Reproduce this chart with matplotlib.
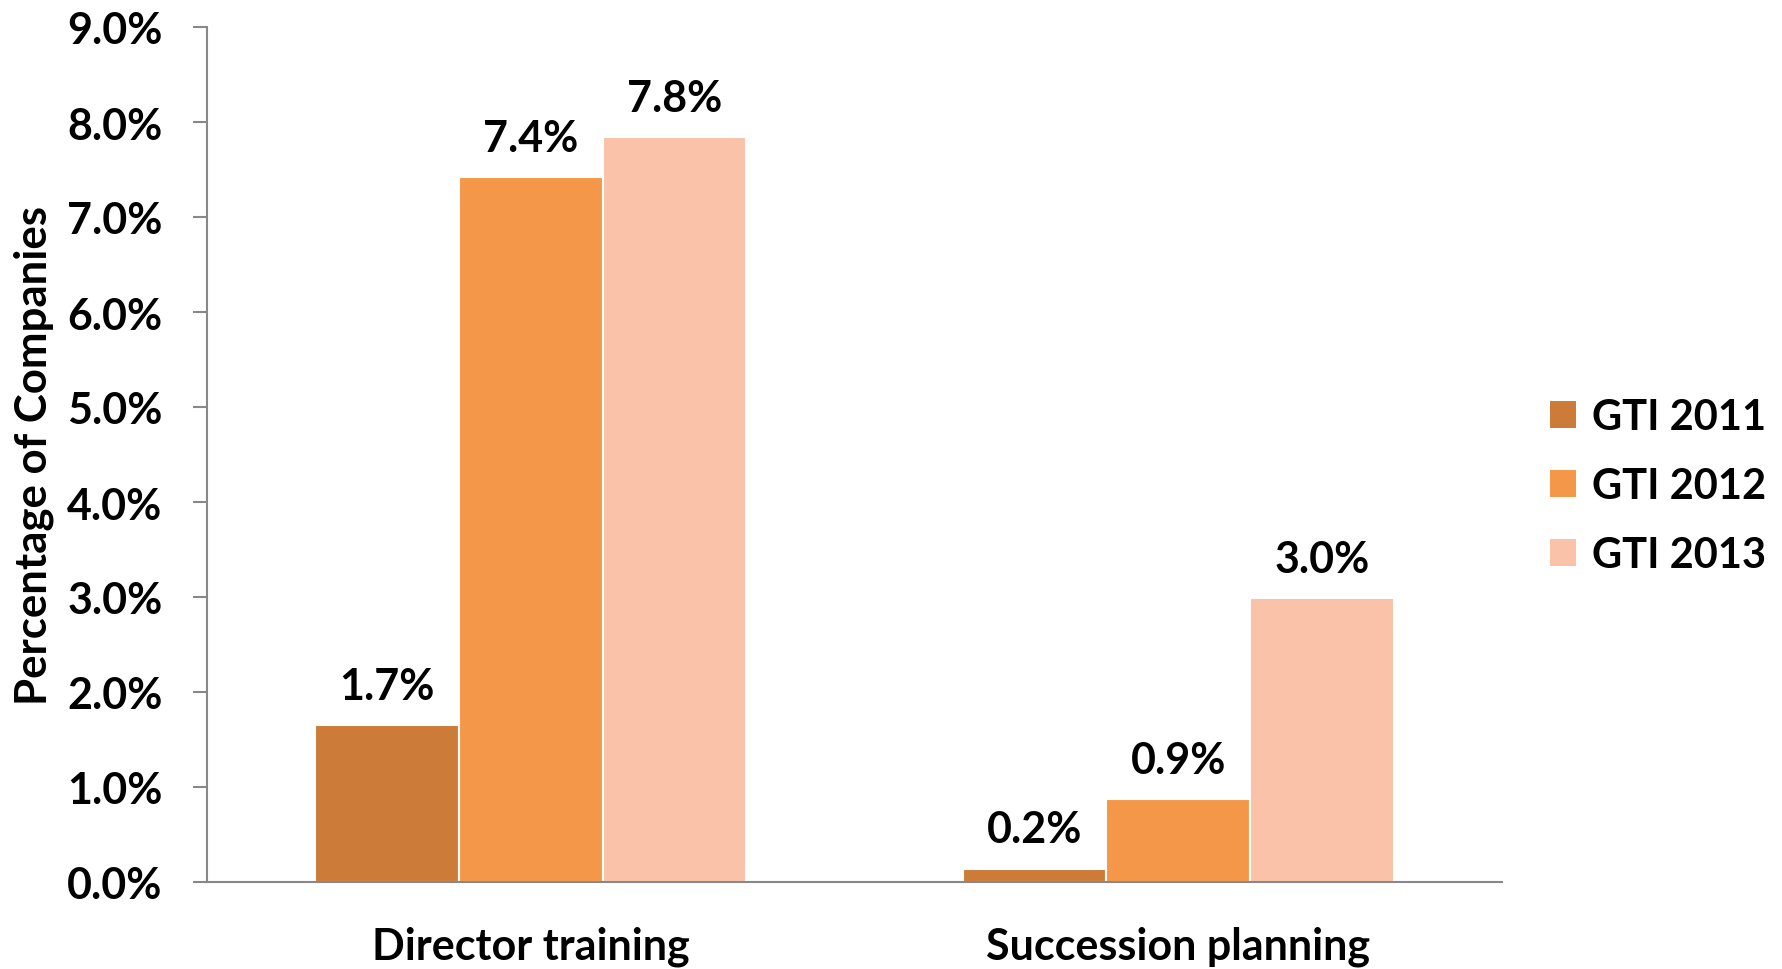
import matplotlib
matplotlib.use('Agg')
import matplotlib.pyplot as plt
import numpy as np
from matplotlib.patches import Patch

plt.rcParams['font.family'] = ['Lato', 'DejaVu Sans']
plt.rcParams['font.weight'] = 'bold'

# data
categories = ['Director training', 'Succession planning']
series = ['GTI 2011', 'GTI 2012', 'GTI 2013']
gti2011 = [1.65, 0.14]
gti2012 = [7.42, 0.87]
gti2013 = [7.84, 2.99]
labels2011 = ['1.7%', '0.2%']
labels2012 = ['7.4%', '0.9%']
labels2013 = ['7.8%', '3.0%']
colors = ['#CC7B39', '#F59748', '#F9C2A9']

fig = plt.figure(figsize=(17.83, 9.70), dpi=100)
ax = fig.add_axes([207 / 1783, 1 - 883 / 970, 1295 / 1783, 855 / 970])

x = np.arange(len(categories))
w = 0.222
fs = 31

allvals = [gti2011, gti2012, gti2013]
alllabels = [labels2011, labels2012, labels2013]
for i in range(3):
    bars = ax.bar(x + (i - 1) * w, allvals[i], w, color=colors[i],
                  edgecolor='white', linewidth=1.5, label=series[i])
    ax.bar_label(bars, labels=alllabels[i], padding=14, fontsize=fs,
                 fontweight='bold')

ax.set_xlim(-0.5, 1.5)
ax.set_ylim(0, 9)
ax.set_yticks(np.arange(0, 9.5, 1))
ax.set_yticklabels(['%.1f%%' % v for v in np.arange(0, 9.5, 1)])
ax.set_xticks(x)
ax.set_xticklabels(categories)

for s in ['top', 'right']:
    ax.spines[s].set_visible(False)
for s in ['left', 'bottom']:
    ax.spines[s].set_color('#888888')
    ax.spines[s].set_linewidth(1.5)

ax.tick_params(axis='y', length=10, width=1.5, color='#888888', pad=22,
               labelsize=fs)
ax.tick_params(axis='x', length=0, pad=31, labelsize=fs)

# y label, right edge about 53 px from the figure's left
ax.set_ylabel('Percentage of Companies', fontsize=31.5, fontweight='bold')
ax.yaxis.set_label_coords((54 - 207) / 1295, 0.5)

handles = [Patch(facecolor=c) for c in colors]
fig.legend(handles, series, loc='center left',
           bbox_to_anchor=(1550 / 1783, 1 - 487 / 970), frameon=False,
           fontsize=30, handlelength=0.62, handleheight=0.62,
           handletextpad=0.4, labelspacing=0.75, borderpad=0,
           borderaxespad=0)

plt.savefig('out.png', dpi=100)
